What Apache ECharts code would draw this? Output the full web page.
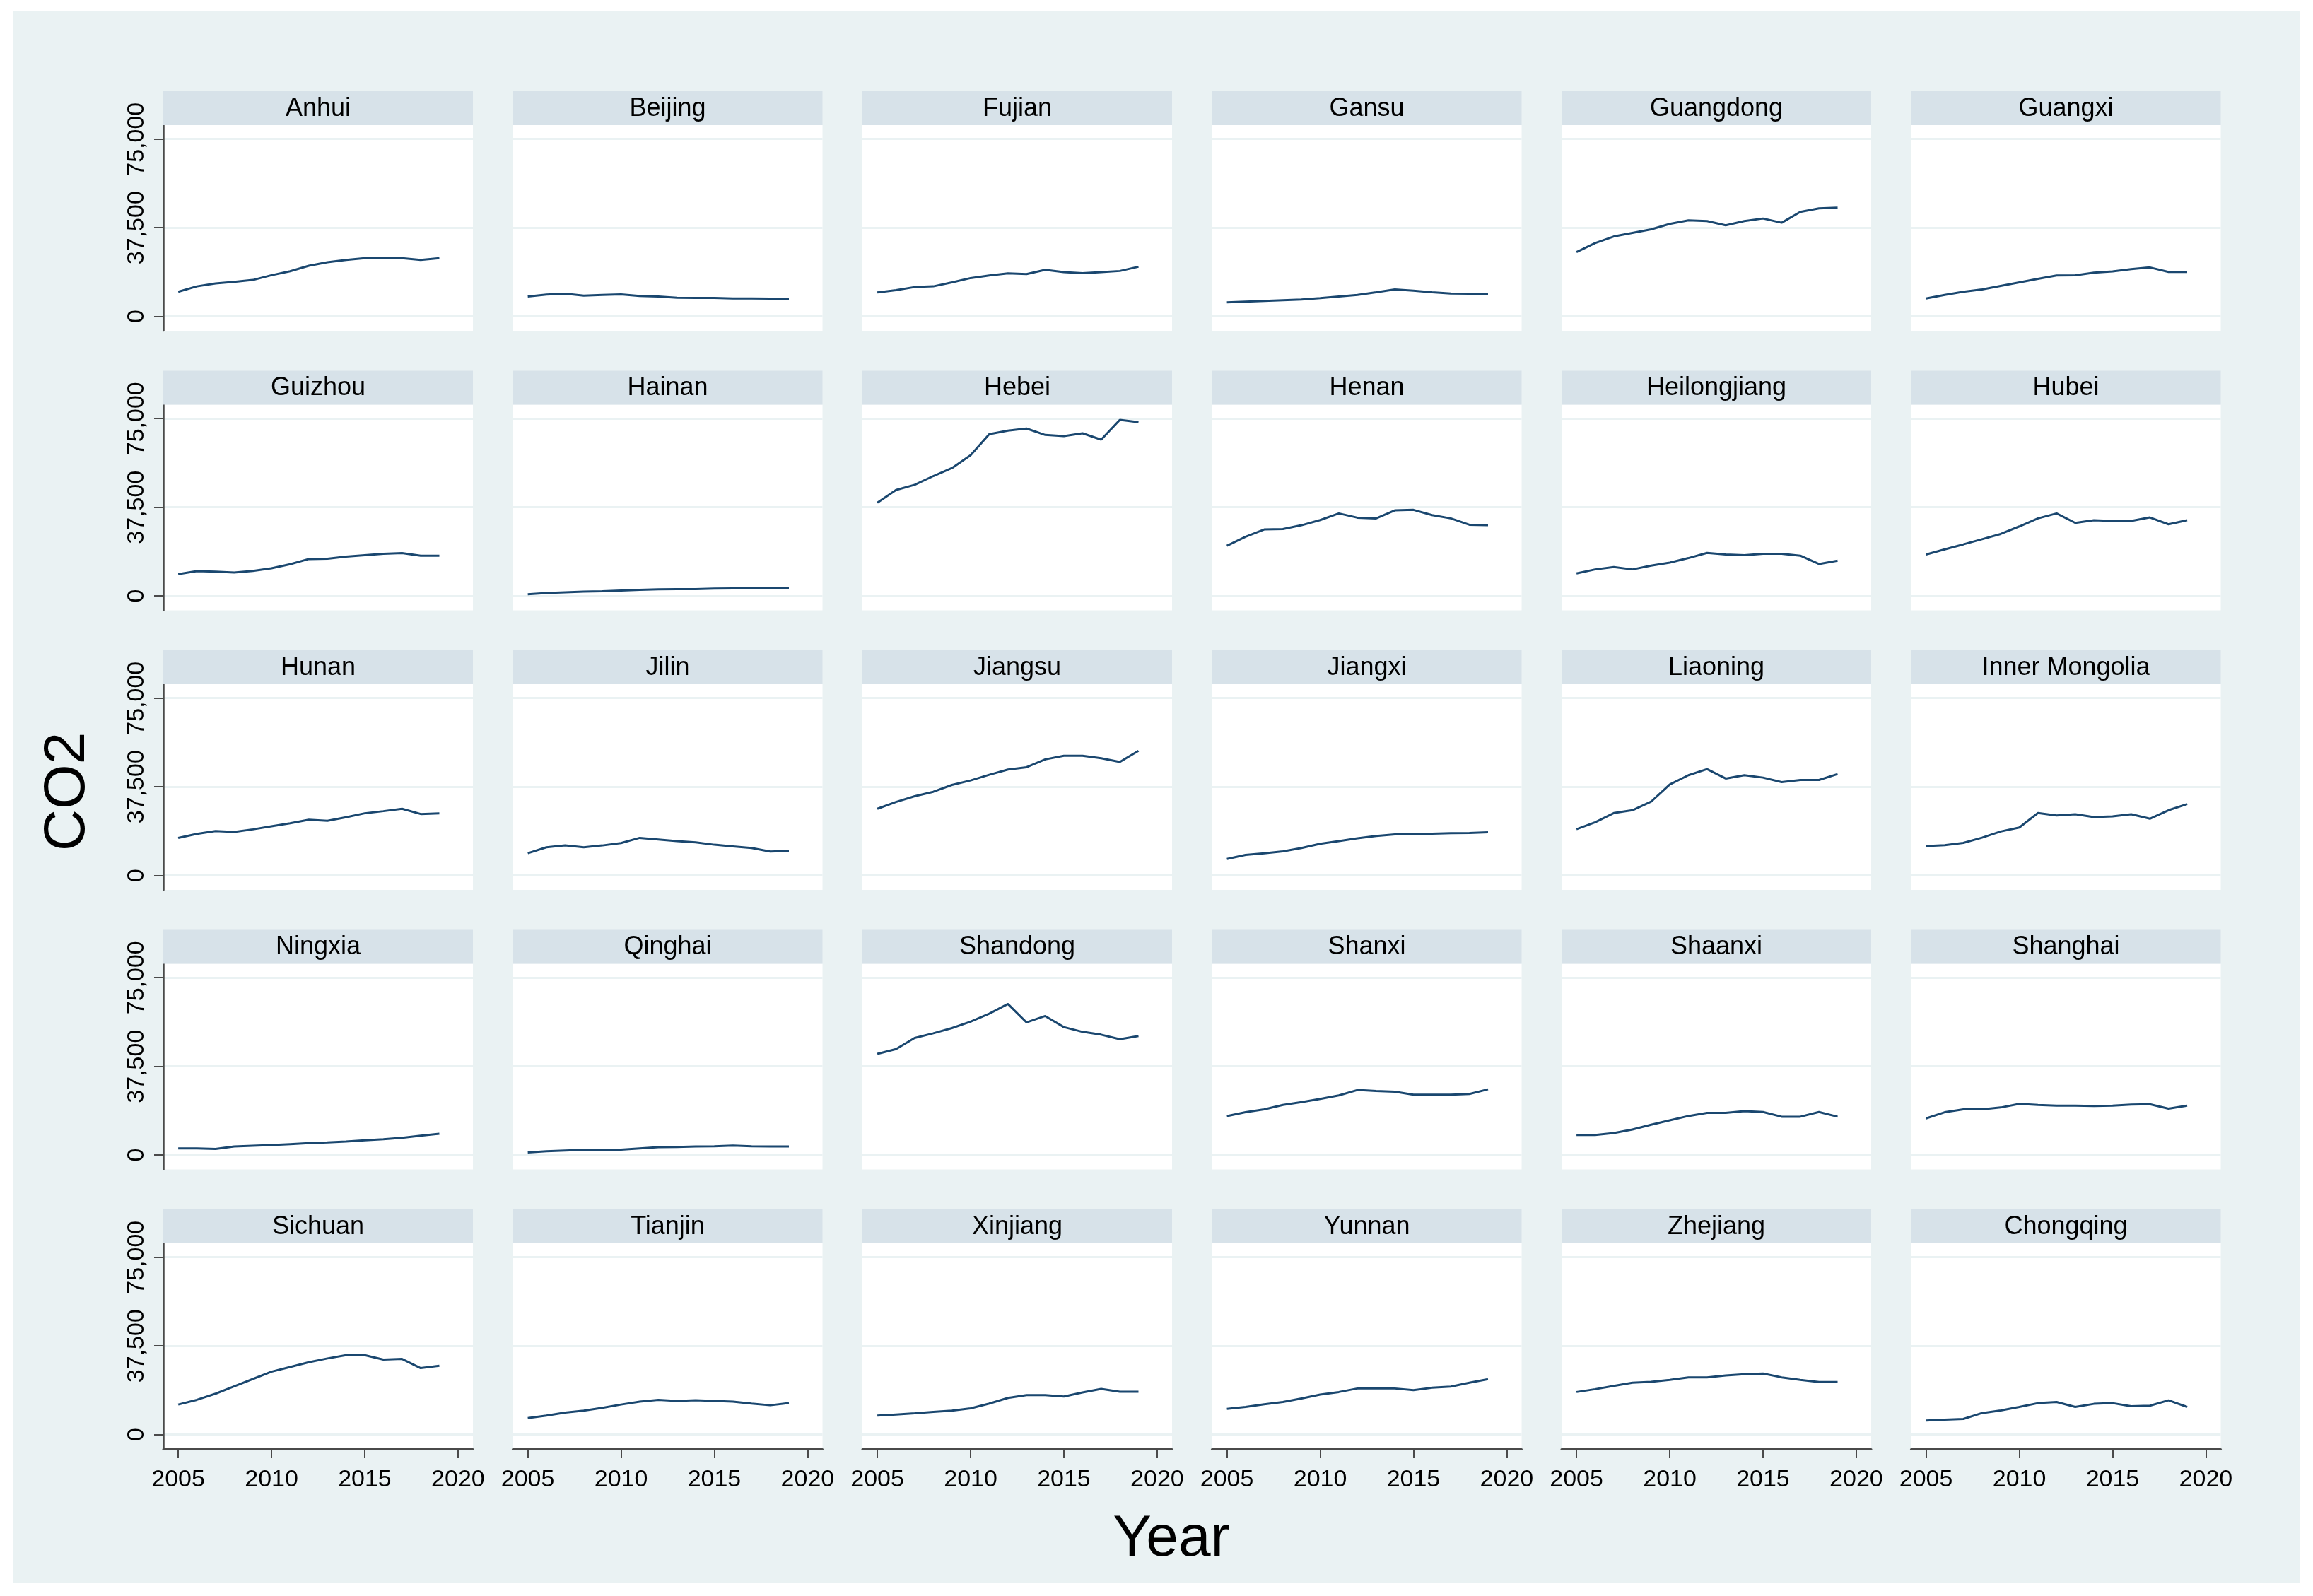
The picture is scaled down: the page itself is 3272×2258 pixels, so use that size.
<!DOCTYPE html>
<html>
<head>
<meta charset="utf-8">
<script src="https://cdn.jsdelivr.net/npm/echarts@6/dist/echarts.min.js"></script>
<style>
html,body{margin:0;padding:0;background:#ffffff;}
#chart{width:3272px;height:2258px;}
</style>
</head>
<body>
<div id="chart"></div>
<script>
// ---------------- data ----------------
const years = [2005, 2006, 2007, 2008, 2009, 2010, 2011, 2012, 2013, 2014, 2015, 2016, 2017, 2018, 2019];
const provinces = ["Anhui", "Beijing", "Fujian", "Gansu", "Guangdong", "Guangxi",
  "Guizhou", "Hainan", "Hebei", "Henan", "Heilongjiang", "Hubei",
  "Hunan", "Jilin", "Jiangsu", "Jiangxi", "Liaoning", "Inner Mongolia",
  "Ningxia", "Qinghai", "Shandong", "Shanxi", "Shaanxi", "Shanghai",
  "Sichuan", "Tianjin", "Xinjiang", "Yunnan", "Zhejiang", "Chongqing"];

const co2Anhui = [10400, 12700, 13900, 14600, 15400, 17400, 19100, 21400, 22900, 23900, 24600, 24700, 24600, 23900, 24600];
const co2Beijing = [8400, 9200, 9600, 8800, 9100, 9300, 8600, 8400, 7900, 7800, 7800, 7600, 7600, 7500, 7500];
const co2Fujian = [10100, 11100, 12400, 12700, 14400, 16200, 17300, 18200, 17900, 19700, 18700, 18300, 18700, 19200, 21000];
const co2Gansu = [5900, 6200, 6500, 6800, 7100, 7700, 8400, 9100, 10200, 11400, 10900, 10200, 9700, 9600, 9600];
const co2Guangdong = [27200, 31000, 33800, 35300, 36800, 39100, 40600, 40300, 38500, 40300, 41400, 39600, 44200, 45700, 46000];
const co2Guangxi = [7600, 9100, 10400, 11400, 12900, 14400, 15900, 17300, 17400, 18500, 19000, 20000, 20700, 18800, 18800];
const co2Guizhou = [9200, 10500, 10300, 9900, 10600, 11700, 13400, 15600, 15700, 16600, 17200, 17800, 18100, 17000, 17000];
const co2Hainan = [700, 1200, 1500, 1800, 2000, 2300, 2600, 2800, 2900, 2900, 3100, 3200, 3200, 3200, 3300];
const co2Hebei = [39400, 44800, 47000, 50700, 54100, 59500, 68400, 69900, 70800, 68100, 67600, 68800, 66100, 74500, 73500];
const co2Henan = [21200, 25000, 28100, 28300, 29900, 32100, 34900, 33100, 32800, 36200, 36400, 34200, 32800, 30100, 29900];
const co2Heilongjiang = [9500, 11200, 12200, 11200, 12800, 14100, 16000, 18200, 17500, 17200, 17800, 17800, 17000, 13500, 14900];
const co2Hubei = [17500, 19700, 21800, 24000, 26200, 29400, 32800, 34900, 30900, 32000, 31700, 31700, 33200, 30300, 32000];
const co2Hunan = [15900, 17600, 18800, 18400, 19500, 20800, 22100, 23600, 23100, 24600, 26300, 27200, 28200, 26000, 26300];
const co2Jilin = [9400, 11900, 12700, 11900, 12700, 13700, 15900, 15200, 14500, 14000, 13000, 12300, 11600, 10100, 10400];
const co2Jiangsu = [28200, 31100, 33500, 35400, 38300, 40200, 42600, 44800, 45800, 49100, 50600, 50600, 49600, 48000, 52700];
const co2Jiangxi = [7000, 8700, 9400, 10200, 11600, 13400, 14500, 15700, 16700, 17400, 17700, 17700, 17900, 18000, 18300];
const co2Liaoning = [19600, 22500, 26400, 27600, 31200, 38500, 42400, 45000, 41000, 42400, 41400, 39500, 40400, 40400, 42900];
const co2InnerMongolia = [12400, 12800, 13800, 16000, 18600, 20300, 26400, 25400, 25900, 24700, 25000, 25900, 24000, 27600, 30200];
const co2Ningxia = [2800, 2800, 2600, 3600, 3900, 4200, 4600, 5000, 5300, 5700, 6200, 6700, 7300, 8200, 9000];
const co2Qinghai = [1100, 1600, 1900, 2200, 2300, 2300, 2800, 3300, 3400, 3600, 3700, 4000, 3700, 3600, 3600];
const co2Shandong = [42800, 44800, 49500, 51500, 53700, 56400, 59800, 63900, 56100, 58800, 54100, 52100, 50900, 49000, 50300];
const co2Shanxi = [16500, 18100, 19300, 21200, 22400, 23700, 25200, 27500, 27100, 26800, 25500, 25500, 25500, 25800, 27800];
const co2Shaanxi = [8500, 8500, 9300, 10800, 12800, 14700, 16500, 17800, 17800, 18600, 18200, 16200, 16200, 18200, 16200];
const co2Shanghai = [15500, 18100, 19300, 19300, 20100, 21600, 21200, 20900, 20900, 20700, 20900, 21300, 21500, 19600, 20900];
const co2Sichuan = [12700, 14700, 17300, 20400, 23500, 26600, 28600, 30600, 32200, 33600, 33600, 31700, 32000, 28100, 29100];
const co2Tianjin = [7000, 8000, 9300, 10100, 11300, 12700, 13900, 14700, 14200, 14500, 14200, 13900, 13100, 12400, 13300];
const co2Xinjiang = [8000, 8500, 9000, 9600, 10100, 11100, 13100, 15500, 16700, 16700, 16100, 17800, 19300, 18100, 18100];
const co2Yunnan = [10900, 11700, 12800, 13800, 15300, 16900, 18000, 19500, 19500, 19500, 18800, 19800, 20300, 21900, 23400];
const co2Zhejiang = [18000, 19200, 20600, 21900, 22300, 23100, 24200, 24200, 25000, 25500, 25800, 24200, 23100, 22200, 22200];
const co2Chongqing = [5900, 6300, 6600, 9100, 10200, 11700, 13300, 13800, 11700, 13000, 13300, 12000, 12200, 14500, 11700];

const seriesValues = [co2Anhui, co2Beijing, co2Fujian, co2Gansu, co2Guangdong, co2Guangxi,
  co2Guizhou, co2Hainan, co2Hebei, co2Henan, co2Heilongjiang, co2Hubei,
  co2Hunan, co2Jilin, co2Jiangsu, co2Jiangxi, co2Liaoning, co2InnerMongolia,
  co2Ningxia, co2Qinghai, co2Shandong, co2Shanxi, co2Shaanxi, co2Shanghai,
  co2Sichuan, co2Tianjin, co2Xinjiang, co2Yunnan, co2Zhejiang, co2Chongqing];

const yTicks = [0, 37500, 75000];
const xTicks = [2005, 2010, 2015, 2020];
const yTitle = "CO2";
const xTitle = "Year";

// ---------------- layout / style ----------------
const NCOL = 6, NROW = 5;
const L0 = 231, CW = 494.5, PW = 438;
const T0 = 129, RH = 395.5, SH = 48, PH = 291;
const FONT = "'Liberation Sans', Arial, sans-serif";
const BG = '#EAF2F3', STRIP = '#D7E2E9', LINE = '#1A476F', AXIS = '#4a4a4a';

const grids = [], xAxes = [], yAxes = [], series = [], graphics = [];

graphics.push({type: 'rect', z: -10, silent: true,
  shape: {x: 19, y: 16, width: 3234, height: 2224}, style: {fill: BG}});

const fmt = v => String(v).replace(/\B(?=(\d{3})+(?!\d))/g, ',');

provinces.forEach((name, i) => {
  const r = Math.floor(i / NCOL), c = i % NCOL;
  const left = L0 + c * CW, stripTop = T0 + r * RH, top = stripTop + SH;
  const firstCol = c === 0, lastRow = r === NROW - 1;

  grids.push({left: left, top: top, width: PW, height: PH, show: true,
    backgroundColor: '#ffffff', borderWidth: 0, containLabel: false});

  xAxes.push({type: 'value', gridIndex: i, min: 2004.2, max: 2020.8,
    axisLine: {show: lastRow, onZero: false, lineStyle: {color: AXIS, width: 3}},
    axisTick: {show: lastRow, customValues: xTicks, length: 13, lineStyle: {color: AXIS, width: 2}},
    axisLabel: {show: lastRow, customValues: xTicks, margin: 27, fontSize: 34, color: '#000', fontFamily: FONT,
      formatter: v => String(v)},
    splitLine: {show: false}});

  yAxes.push({type: 'value', gridIndex: i, min: -6100, max: 80900,
    axisLine: {show: firstCol, onZero: false, lineStyle: {color: AXIS, width: 2.5}},
    axisTick: {show: firstCol, customValues: yTicks, length: 13, lineStyle: {color: AXIS, width: 2}},
    axisLabel: {show: firstCol, customValues: yTicks, rotate: 90, margin: 20, fontSize: 34, color: '#000',
      fontFamily: FONT, formatter: v => fmt(v)},
    splitLine: {show: true, lineStyle: {color: BG, width: 3}}});

  series.push({type: 'line', xAxisIndex: i, yAxisIndex: i, name: name,
    showSymbol: false, symbol: 'none', silent: true,
    lineStyle: {color: LINE, width: 3}, itemStyle: {color: LINE},
    data: years.map((y, k) => [y, seriesValues[i][k]])});

  graphics.push({type: 'rect', z: 1, silent: true,
    shape: {x: left, y: stripTop, width: PW, height: SH}, style: {fill: STRIP}});
  graphics.push({type: 'text', z: 2, silent: true, x: left + PW / 2, y: stripTop + SH / 2 + 1,
    style: {text: name, fill: '#000', font: '36px ' + FONT,
      align: 'center', verticalAlign: 'middle', textAlign: 'center', textVerticalAlign: 'middle'}});
});

graphics.push({type: 'text', z: 2, silent: true, x: 96, y: 1120, rotation: Math.PI / 2,
  style: {text: yTitle, fill: '#000', font: '82px ' + FONT,
    align: 'center', verticalAlign: 'middle', textAlign: 'center', textVerticalAlign: 'middle'}});
graphics.push({type: 'text', z: 2, silent: true, x: 1657, y: 2178,
  style: {text: xTitle, fill: '#000', font: '82px ' + FONT,
    align: 'center', verticalAlign: 'middle', textAlign: 'center', textVerticalAlign: 'middle'}});

const chart = echarts.init(document.getElementById('chart'), null, {renderer: 'canvas', width: 3272, height: 2258});
chart.setOption({
  animation: false,
  backgroundColor: '#ffffff',
  grid: grids, xAxis: xAxes, yAxis: yAxes, series: series,
  graphic: {elements: graphics}
});
</script>
</body>
</html>
